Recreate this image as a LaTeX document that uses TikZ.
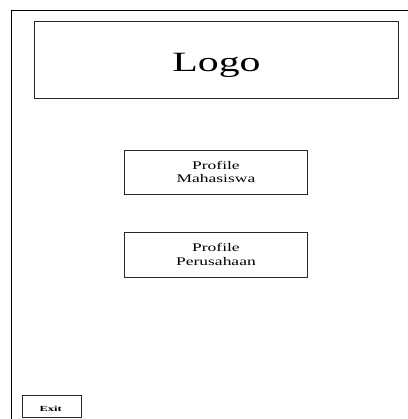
\documentclass[tikz,border=0pt]{standalone}
\usepackage{fontspec}
\setmainfont{Liberation Serif}
% widened lettering used on every label
\newcommand{\widetext}[1]{\scalebox{1.5}[1]{#1}}
\begin{document}
\begin{tikzpicture}[x=1bp,y=-1bp,
  frame/.style={draw=black,line width=1bp},
  menubox/.style={draw=black!85,line width=0.9bp,rectangle,inner sep=0pt},
  menutext/.style={font=\fontsize{11.7}{13.3}\selectfont,align=center,inner sep=0pt}]
  % page area
  \useasboundingbox (0,0) rectangle (408,419);
  % outer window frame (continues past the right and bottom edges)
  \draw[frame] (11.5,419) -- (11.5,10.5) -- (408,10.5);
  % logo banner
  \node[menubox,minimum width=364bp,minimum height=77bp,anchor=north west] (logo) at (34,21) {};
  \node[font=\fontsize{28}{32}\selectfont,anchor=base,inner sep=0pt] (logotext) at (216.5,71.5) {\widetext{Logo}};
  % menu buttons
  \node[menubox,minimum width=183bp,minimum height=44bp,anchor=north west] (mhs) at (124,150) {};
  \node[menutext] (mhstext) at ([yshift=0.5bp]mhs.center) {\widetext{Profile}\\\widetext{Mahasiswa}};
  \node[menubox,minimum width=183bp,minimum height=45bp,anchor=north west] (prs) at (124,232) {};
  \node[menutext] (prstext) at ([yshift=0.5bp]prs.center) {\widetext{Profile}\\\widetext{Perusahaan}};
  % exit button
  \node[menubox,minimum width=59bp,minimum height=21.5bp,anchor=north west] (exit) at (22.3,395.2) {};
  \node[font=\fontsize{7.8}{9}\selectfont\bfseries,inner sep=0pt] (exittext) at ([xshift=-1.5bp,yshift=-2.5bp]exit.center) {\scalebox{1.6}[1]{Exit}};
\end{tikzpicture}
\end{document}
